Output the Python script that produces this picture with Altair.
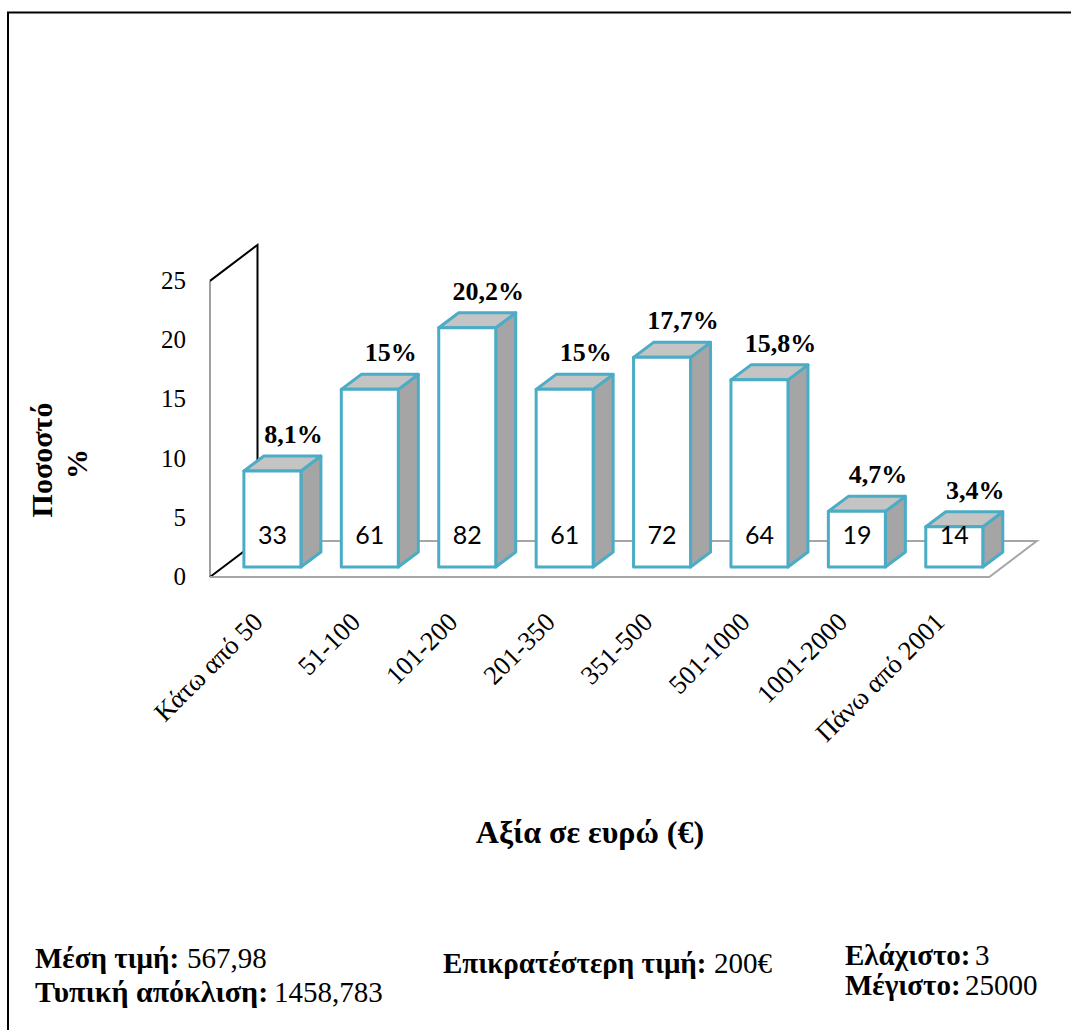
import altair as alt
import pandas as pd

# ---------------- data ----------------
categories = ["Κάτω από 50", "51-100", "101-200", "201-350", "351-500",
              "501-1000", "1001-2000", "Πάνω από 2001"]
counts = [33, 61, 82, 61, 72, 64, 19, 14]
percents = [8.1, 15, 20.2, 15, 17.7, 15.8, 4.7, 3.4]
y_ticks = [0, 5, 10, 15, 20, 25]

# ---------------- geometry (pseudo-3D, in data units) ----------------
W, H = 828, 334
X_DOM = [-0.5, 8.0]
Y_DOM = [0, 28.2]
U = W / (X_DOM[1] - X_DOM[0])   # px per x unit
V = H / (Y_DOM[1] - Y_DOM[0])   # px per y unit

WALL_TOP = 25
FLOOR_END = len(categories) - 0.5
WALL_DX, WALL_DY = 47.5 / U, 36 / V
BAR_OX, BAR_OY = 13.7 / U, 10 / V
BAR_HW = 28.5 / U
BAR_DX, BAR_DY = 20 / U, 15 / V

front_rows, side_rows, top_rows = [], [], []
for i, (c, n, p) in enumerate(zip(categories, counts, percents)):
    cx = i + BAR_OX
    L, R = cx - BAR_HW, cx + BAR_HW
    y0, y1 = BAR_OY, BAR_OY + p
    front_rows.append(dict(i=i, cat=c, cx=cx, L=L, R=R, y0=y0, y1=y1, n=str(n),
                           pl=f"{p:g}".replace(".", ",") + "%"))
    side_rows += [dict(i=i, xs=R, lo=y0, hi=y1),
                  dict(i=i, xs=R + BAR_DX, lo=y0 + BAR_DY, hi=y1 + BAR_DY)]
    top_rows += [dict(i=i, yy=y1, xl=L, xr=R),
                 dict(i=i, yy=y1 + BAR_DY, xl=L + BAR_DX, xr=R + BAR_DX)]

front = pd.DataFrame(front_rows)
side = pd.DataFrame(side_rows)
top = pd.DataFrame(top_rows)
yt = pd.DataFrame({"v": y_ticks})

x0 = X_DOM[0]
bx = x0 + WALL_DX
wall_front = pd.DataFrame(dict(x=[x0, x0], y=[0, WALL_TOP], o=[0, 1]))
wall_black = pd.DataFrame(dict(x=[x0, bx, bx, x0],
                               y=[WALL_TOP, WALL_TOP + WALL_DY, WALL_DY, 0],
                               o=[0, 1, 2, 3]))
floor = pd.DataFrame(dict(x=[bx, FLOOR_END + WALL_DX, FLOOR_END, x0],
                          y=[WALL_DY, WALL_DY, 0, 0], o=[0, 1, 2, 3]))

one = pd.DataFrame({"k": [0]})

# ---------------- scales ----------------
xs = alt.Scale(domain=X_DOM, nice=False, zero=False)
ys = alt.Scale(domain=Y_DOM, nice=False, zero=False)
SERIF = "Liberation Serif"
STROKE = "#4BACC6"


def X(f):
    return alt.X(f, scale=xs, axis=None)


def Y(f):
    return alt.Y(f, scale=ys, axis=None)


# ---------------- layers ----------------
wall_front_l = alt.Chart(wall_front).mark_line(color="#A0A0A0", strokeWidth=2).encode(
    x=X("x:Q"), y=Y("y:Q"), order="o:Q")
wall_black_l = alt.Chart(wall_black).mark_line(color="black", strokeWidth=2).encode(
    x=X("x:Q"), y=Y("y:Q"), order="o:Q")
floor_l = alt.Chart(floor).mark_line(color="#A6A6A6", strokeWidth=2).encode(
    x=X("x:Q"), y=Y("y:Q"), order="o:Q")

side_l = alt.Chart(side).mark_area(orient="vertical", fill="#A5A5A5", opacity=1,
                                   stroke=STROKE, strokeWidth=3, strokeJoin="round").encode(
    x=X("xs:Q"),
    y=alt.Y("hi:Q", scale=ys, axis=None, stack=None),
    y2="lo:Q",
    detail="i:N")
top_l = alt.Chart(top).mark_area(orient="horizontal", fill="#C4C4C4", opacity=1,
                                 stroke=STROKE, strokeWidth=3, strokeJoin="round").encode(
    y=Y("yy:Q"),
    x=alt.X("xl:Q", scale=xs, axis=None, stack=None),
    x2="xr:Q",
    detail="i:N")
front_l = alt.Chart(front).mark_bar(fill="white", stroke=STROKE, strokeWidth=3,
                                    strokeJoin="round").encode(
    x=X("L:Q"), x2="R:Q", y=Y("y1:Q"), y2="y0:Q")

count_l = alt.Chart(front).mark_text(font="Lato", fontSize=25, color="black",
                                     baseline="middle", dy=-31).encode(
    x=X("cx:Q"), y=Y("y0:Q"), text="n:N")
pct_l = alt.Chart(front).mark_text(font=SERIF, fontSize=26, fontWeight="bold",
                                   color="black", baseline="middle", dx=21, dy=-36).encode(
    x=X("cx:Q"), y=Y("y1:Q"), text="pl:N")

# axis labels (drawn through the scales)
ytick_l = alt.Chart(yt).mark_text(font=SERIF, fontSize=25, color="black",
                                  align="right", baseline="middle").encode(
    x=alt.value(-24), y=Y("v:Q"), text="v:Q")
xlab_l = alt.Chart(front).mark_text(font=SERIF, fontSize=26.5, color="black",
                                    align="right", baseline="middle", angle=315).encode(
    x=X("i:Q"), y=alt.value(H + 41), text="cat:N")


def txt(text, x, y, size, bold=False, align="left", baseline="alphabetic", angle=0):
    return alt.Chart(one).mark_text(
        text=text, font=SERIF, fontSize=size,
        fontWeight="bold" if bold else "normal", align=align,
        baseline=baseline, angle=angle, color="black").encode(
        x=alt.value(x), y=alt.value(y))


frame = alt.Chart(one).mark_rect(filled=False, stroke="black", strokeWidth=2).encode(
    x=alt.value(-202), x2=alt.value(900), y=alt.value(-230.5), y2=alt.value(850))

texts = [
    txt("Ποσοστό", -167, 217, 30, bold=True, align="center", baseline="middle", angle=270),
    txt("%", -132, 221, 30, bold=True, align="center", baseline="middle", angle=270),
    txt("Αξία σε ευρώ (€)", 380, 590, 32, bold=True, align="center", baseline="middle"),
    txt("Μέση τιμή:", -175, 725, 29, bold=True),
    txt("567,98", -23, 725, 29),
    txt("Τυπική απόκλιση:", -175, 759, 30, bold=True),
    txt("1458,783", 64, 759, 29),
    txt("Επικρατέστερη τιμή:", 233, 730, 29, bold=True),
    txt("200€", 504, 730, 29),
    txt("Ελάχιστο:", 635, 722, 29, bold=True),
    txt("3", 765, 722, 29),
    txt("Μέγιστο:", 635, 752, 29, bold=True),
    txt("25000", 755, 752, 29),
]

chart = alt.layer(
    frame, wall_front_l, wall_black_l, floor_l,
    side_l, top_l, front_l, count_l, pct_l, ytick_l, xlab_l, *texts
).properties(
    width=W, height=H,
    autosize=alt.AutoSizeParams(type="none"),
    padding={"left": 210, "top": 243, "right": 33, "bottom": 453},
    background="white",
).configure_view(stroke=None)

chart.save("out.html", embed_options={"renderer": "svg", "actions": False})
